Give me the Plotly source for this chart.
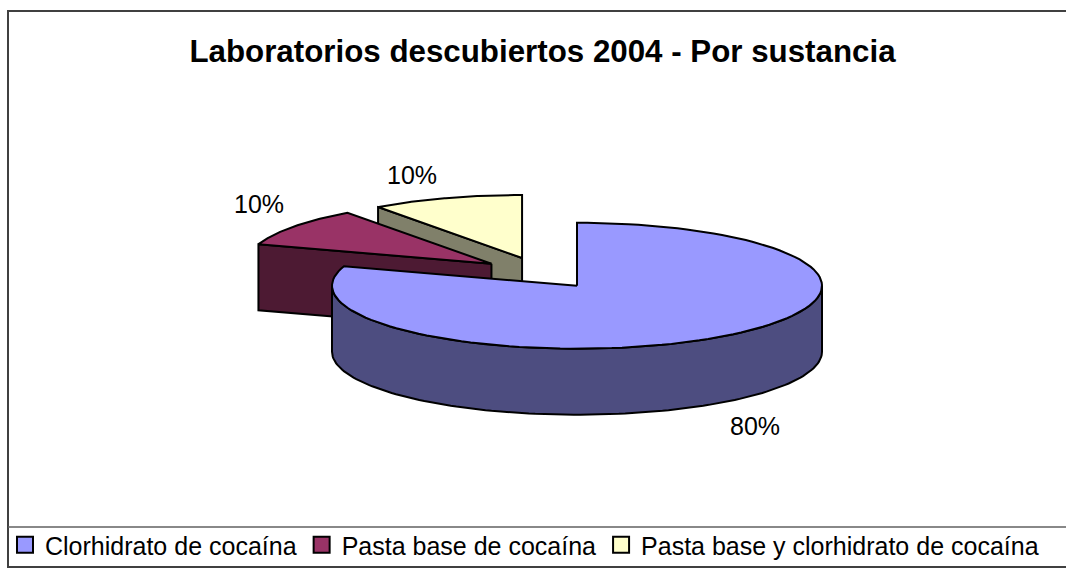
import numpy as np
import plotly.graph_objects as go

# ---- data ----
categories = ["Clorhidrato de cocaína", "Pasta base de cocaína", "Pasta base y clorhidrato de cocaína"]
values = [80, 10, 10]

# ---- styles ----
top_colors = ["#9999FF", "#993366", "#FFFFCC"]
side_colors = ["#4D4D80", "#4D1A33", "#80806A"]
FONT = "Arial, 'Liberation Sans', sans-serif"

# ---- 3D pie geometry (layout constants, in pixel space) ----
W, H = 1066, 569
CX, CY = 541, 273      # pie centre
A, B = 245, 63         # ellipse semi-axes of top face
DEPTH = 66             # thickness
EXPLODE = 0.25         # explode fraction of radius
LBL_DX, LBL_DY = 34, 23
NPTS = 120

total = float(sum(values))
fracs = [v / total for v in values]
bounds = np.concatenate([[0.0], np.cumsum(fracs)]) * 360.0  # clockwise from 12 o'clock


def rim(cx, cy, th_deg, dy=0.0):
    t = np.radians(th_deg)
    return cx + A * np.sin(t), cy - B * np.cos(t) + dy


slices = []
for i in range(len(values)):
    t0, t1 = bounds[i], bounds[i + 1]
    tm = np.radians((t0 + t1) / 2)
    ex = CX + EXPLODE * A * np.sin(tm)
    ey = CY - EXPLODE * B * np.cos(tm)
    slices.append(dict(i=i, t0=t0, t1=t1, tm=(t0 + t1) / 2, cx=ex, cy=ey))

# paint from back to front
order = sorted(slices, key=lambda s: s["cy"])

fig = go.Figure()
LINE = dict(color="black", width=2)


def add_poly(xs, ys, color, name):
    fig.add_trace(go.Scatter(x=list(xs) + [xs[0]], y=list(ys) + [ys[0]], mode="lines",
                             fill="toself", fillcolor=color, line=LINE,
                             hoverinfo="text", text=name, showlegend=False))


for s in order:
    i, t0, t1, cx, cy = s["i"], s["t0"], s["t1"], s["cx"], s["cy"]
    name = f"{categories[i]}: {values[i]/total:.0%}"
    # outer curved side (front half: 90..270 deg)
    for lo, hi in [(90, 270), (450, 630)]:
        a0, a1 = max(t0, lo), min(t1, hi)
        if a1 > a0:
            th = np.linspace(a0, a1, NPTS)
            xt, yt = rim(cx, cy, th)
            xb, yb = rim(cx, cy, th[::-1], DEPTH)
            add_poly(np.concatenate([xt, xb]), np.concatenate([yt, yb]), side_colors[i], name)
    # radial cut faces
    for th, visible in [(t0, np.sin(np.radians(t0)) < -1e-6), (t1, np.sin(np.radians(t1)) > 1e-6)]:
        if visible:
            rx, ry = rim(cx, cy, th)
            add_poly([cx, rx, rx, cx], [cy, ry, ry + DEPTH, cy + DEPTH], side_colors[i], name)
    # top face
    th = np.linspace(t0, t1, NPTS)
    xt, yt = rim(cx, cy, th)
    add_poly(np.concatenate([[cx], xt]), np.concatenate([[cy], yt]), top_colors[i], name)

# data labels
for s in slices:
    tm = np.radians(s["tm"])
    c = np.cos(tm)
    rx, ry = rim(s["cx"], s["cy"], s["tm"], DEPTH if c < 0 else 0)
    fig.add_annotation(x=rx + np.sign(np.sin(tm)) * LBL_DX, y=ry - np.sign(c) * LBL_DY,
                       text=f"{values[s['i']]/total:.0%}", showarrow=False,
                       font=dict(family=FONT, size=25, color="black"),
                       xanchor="center", yanchor="middle")

# legend entries
for i, cat in enumerate(categories):
    fig.add_trace(go.Scatter(x=[None], y=[None], mode="markers", name=cat,
                             marker=dict(symbol="square", size=16, color=top_colors[i],
                                         line=dict(color="black", width=2))))

# chart border & legend box
fig.add_shape(type="rect", xref="x", yref="y", x0=8, y0=11, x1=W + 20, y1=567,
              line=dict(color="#404040", width=2), layer="below")
fig.add_shape(type="line", xref="x", yref="y", x0=8, y0=527, x1=W + 20, y1=527,
              line=dict(color="#606060", width=1.5), layer="below")

fig.update_layout(
    width=W, height=H,
    margin=dict(l=0, r=0, t=0, b=0),
    paper_bgcolor="white", plot_bgcolor="white",
    title=dict(text="<b>Laboratorios descubiertos 2004 - Por sustancia</b>",
               x=542.5 / W, y=1 - 51 / H, xanchor="center", yanchor="middle",
               font=dict(family=FONT, size=31.3, color="black")),
    xaxis=dict(range=[0, W], visible=False, fixedrange=True),
    yaxis=dict(range=[H, 0], visible=False, fixedrange=True),
    showlegend=True,
    legend=dict(orientation="h", x=5 / W, xanchor="left", y=1 - 545 / H, yanchor="middle",
                font=dict(family=FONT, size=25, color="black"),
                bgcolor="rgba(0,0,0,0)", borderwidth=0, itemclick=False, itemdoubleclick=False,
                tracegroupgap=0),
)

fig.write_html("out.html", config={"displayModeBar": False},
               post_script="document.body.style.margin='0';document.body.style.overflow='hidden';")
